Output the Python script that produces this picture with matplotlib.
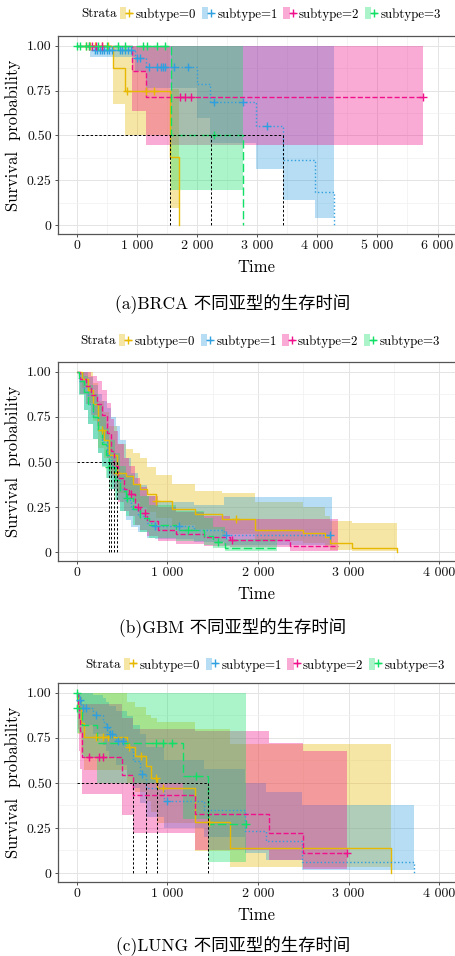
"""Kaplan-Meier curves by subtype for BRCA, GBM and LUNG (three stacked panels)."""
import matplotlib

matplotlib.use("Agg")
import matplotlib.pyplot as plt
import numpy as np
from matplotlib.legend_handler import HandlerTuple
from matplotlib.lines import Line2D
from matplotlib.patches import Patch

plt.rcParams["font.family"] = ["cmr10", "Noto Sans CJK SC"]
plt.rcParams["axes.formatter.use_mathtext"] = True

COLORS = ["#E7B800", "#2E9FDF", "#F0108C", "#10E065"]
STYLES = ["-", ":", "--", (0, (6, 2.5))]
LABELS = ["subtype=0", "subtype=1", "subtype=2", "subtype=3"]
ALPHA = 0.35

# ---------------- BRCA ----------------
brca0_time = [0, 608, 808, 1556, 1706]
brca0_surv = [1.0, 0.878, 0.75, 0.38, 0.0]
brca0_low = [1.0, 0.676, 0.504, 0.093, 0.093]
brca0_high = [1.0, 1.0, 1.0, 0.76, 0.76]
brca0_cens = [150, 220, 300, 420, 520, 830, 1150, 1290]

brca1_time = [0, 222, 970, 1146, 2004, 2215, 2975, 3434, 3960, 4281]
brca1_surv = [1.0, 0.976, 0.933, 0.883, 0.787, 0.686, 0.55, 0.365, 0.185, 0.0]
brca1_low = [1.0, 0.94, 0.86, 0.767, 0.6, 0.457, 0.313, 0.141, 0.039, 0.039]
brca1_high = [1.0, 1.0, 1.0, 1.0, 1.0, 1.0, 1.0, 1.0, 1.0, 1.0]
brca1_cens = [300, 340, 380, 420, 460, 500, 540, 580, 720, 760, 800, 850, 900,
              1010, 1060, 1200, 1330, 1400, 1430, 1470, 1620, 1850, 2290, 2760, 3160]

brca2_time = [0, 914, 1146, 5760]
brca2_surv = [1.0, 0.861, 0.715, 0.715]
brca2_low = [1.0, 0.637, 0.448, 0.448]
brca2_high = [1.0, 1.0, 1.0, 1.0]
brca2_cens = [200, 260, 320, 420, 1720, 1800, 1900, 5760]

brca3_time = [0, 1575, 2760]
brca3_surv = [1.0, 0.5, 0.0]
brca3_low = [1.0, 0.193, 0.193]
brca3_high = [1.0, 1.0, 1.0]
brca3_cens = [0, 50, 160, 210, 350, 500, 680, 810, 1110, 1170, 1330, 1460, 2280]

brca_medians = [1556, 2238, 3434]

# ---------------- GBM ----------------
gbm0_time = [0, 60, 120, 180, 230, 300, 360, 441, 540, 620, 700, 780, 880, 1050,
             1300, 1600, 1968, 2501, 2740, 2790, 3035, 3530]
gbm0_surv = [1.0, 0.96, 0.9, 0.82, 0.68, 0.62, 0.54, 0.44, 0.42, 0.38, 0.35, 0.32,
             0.283, 0.241, 0.21, 0.182, 0.12, 0.108, 0.083, 0.05, 0.024, 0.0]
gbm0_low = [1.0, 0.91, 0.83, 0.73, 0.58, 0.52, 0.44, 0.33, 0.31, 0.28, 0.25, 0.22,
            0.19, 0.15, 0.125, 0.1, 0.06, 0.05, 0.03, 0.01, 0.003, 0.0]
gbm0_high = [1.0, 1.0, 1.0, 0.94, 0.84, 0.78, 0.7, 0.6, 0.574, 0.55, 0.52, 0.47,
             0.43, 0.38, 0.34, 0.326, 0.28, 0.25, 0.2, 0.17, 0.16, 0.16]
gbm0_cens = [275, 450, 880, 1760]

gbm1_time = [0, 30, 80, 130, 180, 230, 280, 330, 379, 430, 480, 540, 600, 680,
             780, 860, 1290, 1620, 2815]
gbm1_surv = [1.0, 0.95, 0.89, 0.82, 0.75, 0.68, 0.61, 0.54, 0.48, 0.41, 0.35, 0.29,
             0.24, 0.2, 0.16, 0.142, 0.12, 0.097, 0.097]
gbm1_low = [1.0, 0.88, 0.79, 0.71, 0.63, 0.55, 0.48, 0.41, 0.35, 0.29, 0.23, 0.18,
            0.14, 0.11, 0.08, 0.07, 0.055, 0.04, 0.04]
gbm1_high = [1.0, 1.0, 1.0, 0.97, 0.93, 0.88, 0.84, 0.8, 0.75, 0.7, 0.62, 0.52,
             0.44, 0.37, 0.31, 0.28, 0.26, 0.306, 0.306]
gbm1_cens = [860, 1130, 1650, 2800]

gbm2_time = [0, 40, 100, 160, 220, 280, 330, 380, 415, 460, 520, 577, 640, 700,
             780, 900, 1100, 1400, 1692, 2355, 2888]
gbm2_surv = [1.0, 0.96, 0.92, 0.87, 0.82, 0.76, 0.66, 0.56, 0.48, 0.41, 0.35, 0.32,
             0.25, 0.215, 0.17, 0.12, 0.1, 0.083, 0.065, 0.032, 0.032]
gbm2_low = [1.0, 0.88, 0.82, 0.76, 0.7, 0.62, 0.52, 0.42, 0.35, 0.28, 0.23, 0.2,
            0.15, 0.12, 0.09, 0.06, 0.045, 0.035, 0.025, 0.008, 0.008]
gbm2_high = [1.0, 1.0, 1.0, 0.98, 0.95, 0.9, 0.83, 0.74, 0.67, 0.6, 0.52, 0.48,
             0.41, 0.36, 0.31, 0.25, 0.22, 0.2, 0.185, 0.185, 0.185]
gbm2_cens = [595, 680, 750, 1710]

gbm3_time = [0, 30, 80, 130, 180, 230, 280, 320, 353, 420, 480, 544, 620, 700,
             800, 1100, 1400, 1500, 1640, 2207]
gbm3_surv = [1.0, 0.95, 0.89, 0.82, 0.75, 0.68, 0.6, 0.54, 0.472, 0.4, 0.34, 0.3,
             0.24, 0.19, 0.15, 0.124, 0.09, 0.055, 0.024, 0.024]
gbm3_low = [1.0, 0.87, 0.79, 0.71, 0.63, 0.55, 0.47, 0.41, 0.35, 0.29, 0.23, 0.2,
            0.15, 0.11, 0.08, 0.06, 0.04, 0.02, 0.004, 0.004]
gbm3_high = [1.0, 1.0, 0.98, 0.93, 0.88, 0.82, 0.75, 0.69, 0.62, 0.55, 0.48, 0.43,
             0.37, 0.31, 0.26, 0.23, 0.19, 0.14, 0.07, 0.07]
gbm3_cens = [360, 555, 1233, 1563]

gbm_medians = [353, 379, 415, 441]

# ---------------- LUNG ----------------
lung0_time = [0, 20, 45, 80, 560, 645, 770, 820, 882, 1300, 1690, 3467]
lung0_surv = [1.0, 0.917, 0.833, 0.756, 0.70, 0.648, 0.593, 0.527, 0.47, 0.281, 0.141, 0.0]
lung0_low = [1.0, 0.77, 0.66, 0.57, 0.5, 0.45, 0.4, 0.34, 0.28, 0.12, 0.031, 0.031]
lung0_high = [1.0, 1.0, 1.0, 1.0, 0.95, 0.92, 0.88, 0.86, 0.84, 0.8, 0.718, 0.718]
lung0_cens = [213, 294, 349, 577, 709, 875, 949, 1459]

lung1_time = [0, 25, 50, 180, 290, 320, 360, 430, 560, 620, 700, 761, 960, 1400,
              1860, 2090, 2483, 3726]
lung1_surv = [1.0, 0.96, 0.917, 0.88, 0.84, 0.81, 0.774, 0.735, 0.69, 0.62, 0.55,
              0.47, 0.4, 0.348, 0.231, 0.176, 0.059, 0.0]
lung1_low = [1.0, 0.87, 0.82, 0.77, 0.71, 0.68, 0.64, 0.6, 0.54, 0.47, 0.39, 0.31,
             0.25, 0.2, 0.11, 0.07, 0.018, 0.018]
lung1_high = [1.0, 1.0, 1.0, 0.99, 0.97, 0.95, 0.93, 0.9, 0.87, 0.82, 0.77, 0.7,
              0.63, 0.58, 0.5, 0.45, 0.38, 0.38]
lung1_cens = [37, 74, 103, 213, 331, 368, 393, 460, 507, 724, 992]

lung2_time = [0, 15, 29, 42, 55, 496, 625, 1305, 2125, 2492, 2978]
lung2_surv = [1.0, 0.93, 0.86, 0.79, 0.645, 0.546, 0.435, 0.33, 0.22, 0.111, 0.111]
lung2_low = [1.0, 0.8, 0.68, 0.58, 0.44, 0.324, 0.222, 0.126, 0.07, 0.02, 0.02]
lung2_high = [1.0, 1.0, 1.0, 0.98, 0.94, 0.86, 0.8, 0.79, 0.72, 0.676, 0.676]
lung2_cens = [140, 250, 287, 2978]

lung3_time = [0, 3, 60, 221, 1177, 1453, 1867]
lung3_surv = [1.0, 0.917, 0.824, 0.722, 0.537, 0.272, 0.272]
lung3_low = [1.0, 0.78, 0.64, 0.5, 0.3, 0.06, 0.06]
lung3_high = [1.0, 1.0, 1.0, 1.0, 1.0, 1.0, 1.0]
lung3_cens = [0, 5, 875, 949, 1048, 1313, 1867]

lung_medians = [625, 761, 882, 1453]

CAPTIONS = ["(a)BRCA 不同亚型的生存时间", "(b)GBM 不同亚型的生存时间", "(c)LUNG 不同亚型的生存时间"]


def surv_at(time, surv, when):
    idx = np.searchsorted(time, when, side="right") - 1
    return np.asarray(surv)[idx]


def draw_panel(ax, curves, medians, xlim, xmax_tick):
    for k, (t, s, lo, hi, c) in enumerate(curves):
        ax.fill_between(t, lo, hi, step="post", color=COLORS[k], alpha=ALPHA,
                        linewidth=0, zorder=1 + k * 0.01)
    for k, (t, s, lo, hi, c) in enumerate(curves):
        ax.step(t, s, where="post", color=COLORS[k], linestyle=STYLES[k],
                linewidth=1.0, zorder=3)
        ax.plot(c, surv_at(t, s, c), linestyle="none", marker="+", markersize=6,
                markeredgewidth=1.0, color=COLORS[k], zorder=4)
    ax.plot([0, max(medians)], [0.5, 0.5], color="black", linestyle=(0, (2.5, 2)),
            linewidth=0.7, zorder=5)
    for m in medians:
        ax.plot([m, m], [0.5, 0], color="black", linestyle=(0, (2.5, 2)),
                linewidth=0.7, zorder=5)

    ticks = np.arange(0, xmax_tick + 1, 1000)
    ax.set_xticks(ticks, ["0" if v == 0 else f"{v // 1000} {v % 1000:03d}" for v in ticks])
    ax.set_xticks(np.arange(500, xlim[1], 1000), minor=True)
    ax.set_yticks([0, 0.25, 0.5, 0.75, 1.0], ["0", "0.25", "0.50", "0.75", "1.00"])
    ax.set_yticks([0.125, 0.375, 0.625, 0.875], minor=True)
    ax.set_xlim(*xlim)
    ax.set_ylim(-0.05, 1.055)
    ax.grid(True, which="major", color="#E4E4E4", linewidth=0.7)
    ax.grid(True, which="minor", color="#F0F0F0", linewidth=0.5)
    ax.set_axisbelow(True)
    ax.tick_params(which="major", length=2.5, width=0.6, color="#333333",
                   labelsize=10, labelcolor="#111111", pad=2)
    ax.tick_params(which="minor", length=0)
    for side in ["top", "left", "bottom"]:
        ax.spines[side].set_color("#555555")
        ax.spines[side].set_linewidth(0.9)
    ax.spines["right"].set_visible(False)
    ax.set_xlabel("Time", fontsize=12, labelpad=5)
    ax.set_ylabel("Survival  probability", fontsize=12, labelpad=4)


def add_legend(fig, y, x_strata):
    handles = [
        (Patch(facecolor=COLORS[k], alpha=ALPHA, edgecolor="none"),
         Line2D([], [], color=COLORS[k], linestyle=STYLES[k], linewidth=1.0,
                marker="+", markersize=6, markeredgewidth=1.0))
        for k in range(4)
    ]
    fig.text(x_strata / 455, y, "Strata", fontsize=9.3, va="center", ha="left")
    fig.legend(handles, LABELS, handler_map={tuple: HandlerTuple(ndivide=None, pad=0)},
               loc="center left", bbox_to_anchor=((x_strata + 39) / 455, y),
               ncol=4, frameon=False, fontsize=9.3, handlelength=0.95, handleheight=0.95,
               handletextpad=0.25, columnspacing=0.45, borderpad=0, borderaxespad=0)


def main():
    fig = plt.figure(figsize=(4.55, 9.56), dpi=100)
    H = 956.0
    panels = [
        (36, 234, 14, 81, 303, (-311, 6290), 6000, brca_medians,
         [(brca0_time, brca0_surv, brca0_low, brca0_high, brca0_cens),
          (brca1_time, brca1_surv, brca1_low, brca1_high, brca1_cens),
          (brca2_time, brca2_surv, brca2_low, brca2_high, brca2_cens),
          (brca3_time, brca3_surv, brca3_low, brca3_high, brca3_cens)]),
        (362, 561, 341, 80, 627, (-206, 4174), 4000, gbm_medians,
         [(gbm0_time, gbm0_surv, gbm0_low, gbm0_high, gbm0_cens),
          (gbm1_time, gbm1_surv, gbm1_low, gbm1_high, gbm1_cens),
          (gbm2_time, gbm2_surv, gbm2_low, gbm2_high, gbm2_cens),
          (gbm3_time, gbm3_surv, gbm3_low, gbm3_high, gbm3_cens)]),
        (683, 882, 665, 85, 945, (-206, 4174), 4000, lung_medians,
         [(lung0_time, lung0_surv, lung0_low, lung0_high, lung0_cens),
          (lung1_time, lung1_surv, lung1_low, lung1_high, lung1_cens),
          (lung2_time, lung2_surv, lung2_low, lung2_high, lung2_cens),
          (lung3_time, lung3_surv, lung3_low, lung3_high, lung3_cens)]),
    ]
    for (top, bottom, leg_y, strata_x, cap_y, xlim, xt, medians, curves), caption in zip(panels, CAPTIONS):
        ax = fig.add_axes([58 / 455, 1 - bottom / H, 1 - 58 / 455, (bottom - top) / H])
        draw_panel(ax, curves, medians, xlim, xt)
        add_legend(fig, 1 - leg_y / H, strata_x)
        fig.text(233 / 455, 1 - cap_y / H, caption, fontsize=12.5, ha="center", va="center")
    fig.savefig("out.png", dpi=100, facecolor="white")
    plt.close(fig)


if __name__ == "__main__":
    main()
